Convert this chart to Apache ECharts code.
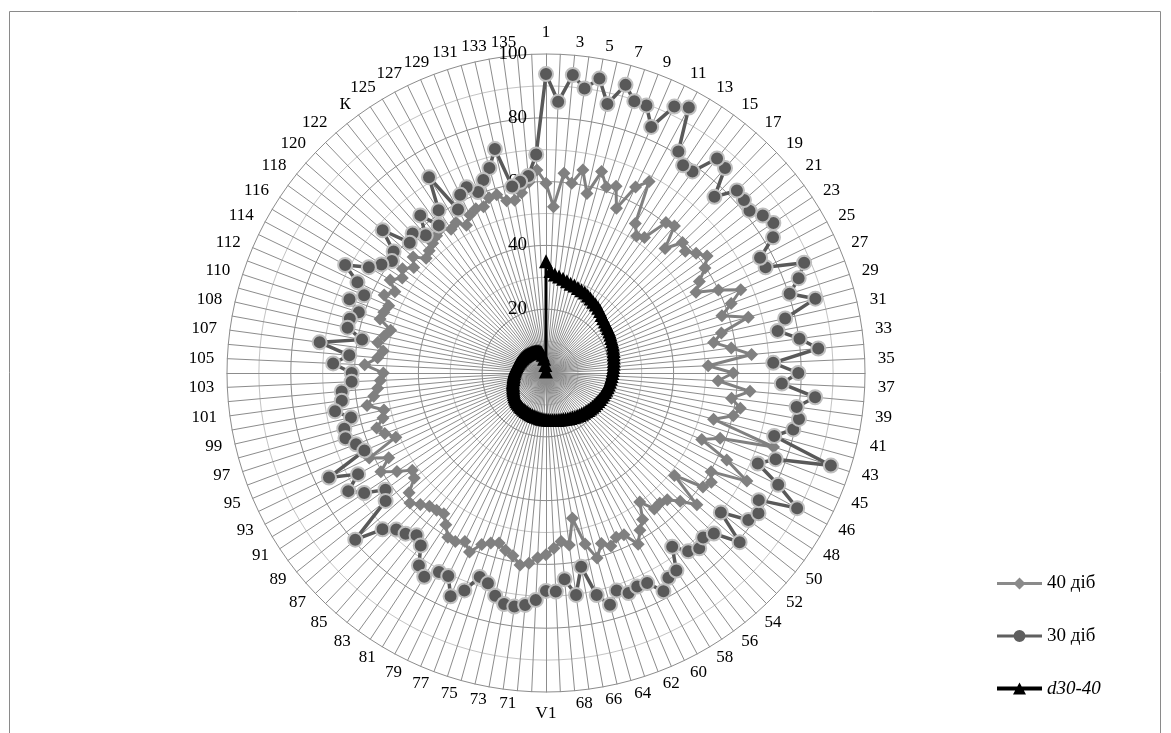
<!DOCTYPE html>
<html><head><meta charset="utf-8">
<script src="https://cdn.jsdelivr.net/npm/echarts@6/dist/echarts.min.js"></script>
<style>html,body{margin:0;padding:0;background:#fff}#c{width:1171px;height:733px}</style>
</head><body><div id="c"></div>
<script>
const categories = ["1","2","3","4","5","6","7","8","9","10","11","12","13","14","15","16","17","18","19","20",
"21","22","23","24","25","26","27","28","29","30","31","32","33","34","35","36","37","38","39","40",
"41","42","43","44","45","45a","46","47","48","49","50","51","52","53","54","55","56","57","58","59",
"60","61","62","63","64","65","66","67","68","69","V1","70","71","72","73","74","75","76","77","78",
"79","80","81","82","83","84","85","86","87","88","89","90","91","92","93","94","95","96","97","98",
"99","100","101","102","103","104","105","106","107","107a","108","109","110","111","112","113","114","115","116","117",
"118","119","120","121","122","123","К","124","125","126","127","128","129","130","131","132","133","134","135","136"];

const days40 = [59.5,52.2,62.9,60.0,64.7,57.7,65.5,61.3,62.5,56.2,64.7,68.2,54.6,51.5,52.5,60.3,61.2,54.0,59.2,58.0,
60.2,62.4,59.7,56.0,53.4,60.0,66.4,62.0,58.0,65.8,56.4,53.4,58.6,64.7,50.9,58.7,54.0,64.2,58.7,61.9,
60.2,54.5,75.0,58.3,53.1,62.9,71.5,60.3,62.1,60.8,51.5,62.8,58.2,55.0,54.2,54.5,50.0,55.0,57.4,61.0,
56.3,56.0,57.9,56.2,60.2,55.0,46.3,54.4,53.0,55.0,57.0,58.0,59.9,60.7,58.2,57.0,55.3,56.0,57.4,61.0,
58.6,60.0,60.0,57.0,54.5,55.0,55.5,57.0,59.0,57.0,52.8,51.8,56.0,60.3,56.0,61.5,51.2,54.0,55.8,53.0,
52.1,57.0,54.5,53.0,52.0,51.0,56.9,53.0,51.5,53.6,52.0,50.5,54.7,54.3,53.6,56.3,53.8,56.9,54.0,55.6,
53.0,55.3,52.0,53.0,54.0,55.0,56.0,54.0,55.0,52.6,55.0,56.0,55.7,57.8,58.0,55.4,55.0,57.0,60.0,63.7];

const days30 = [93.7,85.1,93.8,90.0,93.8,86.5,93.7,89.6,89.6,83.9,92.7,94.5,80.9,78.0,78.1,86.0,85.3,76.4,82.8,82.4,
81.6,84.0,85.4,82.9,76.2,76.4,88.0,84.6,80.3,87.6,76.9,73.8,80.2,85.7,71.3,79.1,74.0,84.7,79.3,80.6,
79.5,74.2,93.9,76.9,72.2,80.8,89.4,77.7,79.8,78.4,70.1,80.6,72.8,71.3,73.0,71.5,67.3,74.2,74.8,77.7,
73.1,72.8,73.7,71.7,75.4,71.4,61.7,70.2,64.9,68.6,68.3,71.2,73.0,73.9,73.6,71.6,68.4,67.2,72.8,76.1,
70.6,70.8,74.4,72.3,66.8,65.1,66.9,67.9,70.9,79.4,64.3,62.2,68.3,72.2,66.9,75.5,61.9,63.6,66.1,65.6,
62.7,67.2,64.6,64.3,61.0,60.9,66.8,61.9,71.6,58.6,63.8,63.8,61.7,65.8,62.0,65.6,71.5,64.7,61.8,59.7,
61.1,68.0,59.1,60.5,57.3,63.2,57.2,61.1,71.5,58.2,62.0,63.3,60.6,63.6,66.7,72.0,59.4,60.5,62.0,68.6];

const diff3040 = [35,32,31,30.5,30,29.5,29,28.8,28.5,28.2,28,27.6,27.2,26.8,26.5,26.2,25.8,25.2,24.8,24.5,
24.2,24,23.8,23.5,23.2,23,22.8,22.5,22.3,22,21.8,21.6,21.4,21.2,21,20.8,20.6,20.4,20.2,20,
19.8,19.6,19.4,19.2,19,18.8,18.6,18.4,18.2,18,17.8,17.6,17.4,17.2,17,16.8,16.6,16.4,16.2,16,
15.8,15.6,15.4,15.3,15.2,15.1,15,14.9,14.8,14.7,14.6,14.5,14.4,14.3,14.2,14.1,14,13.9,13.8,13.7,
13.6,13.5,13.4,13.3,13.2,13.1,13,12.9,12.8,12.6,12.4,12.2,12,11.8,11.6,11.4,11.2,11,10.9,10.8,
10.6,10.4,10.3,10.2,10.1,10,9.9,9.8,9.7,9.6,9.5,9.4,9.3,9.2,9.1,9,8.9,8.8,8.7,8.6,
8.5,8.4,8.3,8.2,8.1,8,7.9,7.8,7.7,7.6,7.5,7.4,7.3,7.2,7.0,6.6,5.8,4.5,2.5,0.5];

const valueTicks = [20, 40, 60, 80, 100];
const seriesNames = ["40 діб", "30 діб", "d30-40"];

const FONT = "'Liberation Serif','DejaVu Serif',serif";
const N = categories.length;
// ECharts radar runs counter-clockwise; reorder so categories run clockwise from the top.
const order = categories.map((_, k) => (N - k) % N);
const catIndex = {};
categories.forEach((c, i) => { catIndex[c] = i; });
const reorder = arr => order.map(i => arr[i]);

const indicator = order.map((i, k) => {
  const ind = { name: categories[i], min: 0, max: 100 };
  if (k === 0) {
    ind.axisLabel = {
      show: true, margin: 19, color: '#000', fontFamily: FONT, fontSize: 19,
      formatter: v => (valueTicks.indexOf(Number(v)) >= 0 ? String(v) : '')
    };
  }
  return ind;
});

// legend icons: line with marker in the middle (45 x 12 box)
const ICON_DIAMOND = 'path://M0,4.5H45V7.5H0Z M22.5,0L28.5,6L22.5,12L16.5,6Z';
const ICON_CIRCLE = 'path://M0,4.5H45V7.5H0Z M16.5,6A6,6,0,1,1,28.5,6A6,6,0,1,1,16.5,6Z';
const ICON_TRIANGLE = 'path://M0,4H45V8H0Z M22.5,0L29,12L16,12Z';

const chart = echarts.init(document.getElementById('c'), null, { renderer: 'canvas' });
chart.setOption({
  animation: false,
  backgroundColor: '#fff',
  graphic: [{
    type: 'rect', silent: true,
    shape: { x: 9.5, y: 11.5, width: 1151, height: 740 },
    style: { fill: 'none', stroke: '#8a8a8a', lineWidth: 1 }
  }],
  legend: {
    orient: 'vertical', left: 992, top: 569, itemWidth: 45, itemHeight: 12, itemGap: 33.5,
    data: [
      { name: seriesNames[0], icon: ICON_DIAMOND, itemStyle: { color: '#8a8a8a', borderWidth: 0 } },
      { name: seriesNames[1], icon: ICON_CIRCLE, itemStyle: { color: '#5f5f5f', borderWidth: 0 } },
      { name: seriesNames[2], icon: ICON_TRIANGLE, itemStyle: { color: '#000', borderWidth: 0 } }
    ],
    textStyle: { fontFamily: FONT, fontSize: 19, color: '#000',
      rich: { it: { fontFamily: FONT, fontSize: 19, fontStyle: 'italic', color: '#000' } } },
    formatter: n => (n === 'd30-40' ? '{it|' + n + '}' : n)
  },
  radar: {
    center: [546, 373], radius: 319, startAngle: 90, shape: 'polygon', splitNumber: 10,
    indicator: indicator,
    nameGap: 13,
    axisName: {
      color: '#000', fontFamily: FONT, fontSize: 17,
      formatter: name => (catIndex[name] % 2 === 0 ? name : '')
    },
    axisLine: { show: true, lineStyle: { color: '#8c8c8c', width: 1 } },
    axisTick: { show: false },
    axisLabel: { show: false },
    splitArea: { show: false },
    splitLine: { show: true, lineStyle: { color: ['#8c8c8c', '#c4c4c4'], width: 1 } }
  },
  series: [
    { type: 'radar', name: seriesNames[0], symbol: 'diamond', symbolSize: 13, z: 2,
      lineStyle: { color: '#808080', width: 3 },
      itemStyle: { color: '#808080' },
      emphasis: { disabled: true },
      data: [{ name: seriesNames[0], value: reorder(days40) }] },
    { type: 'radar', name: seriesNames[1], symbol: 'circle', symbolSize: 14, z: 3,
      lineStyle: { color: '#595959', width: 3.5 },
      itemStyle: { color: '#595959', borderColor: '#bfbfbf', borderWidth: 2 },
      emphasis: { disabled: true },
      data: [{ name: seriesNames[1], value: reorder(days30) }] },
    { type: 'radar', name: seriesNames[2], symbol: 'triangle', symbolSize: 14, z: 4,
      lineStyle: { color: '#000', width: 3 },
      itemStyle: { color: '#000' },
      emphasis: { disabled: true },
      data: [{ name: seriesNames[2], value: reorder(diff3040) }] }
  ]
});
</script></body></html>
